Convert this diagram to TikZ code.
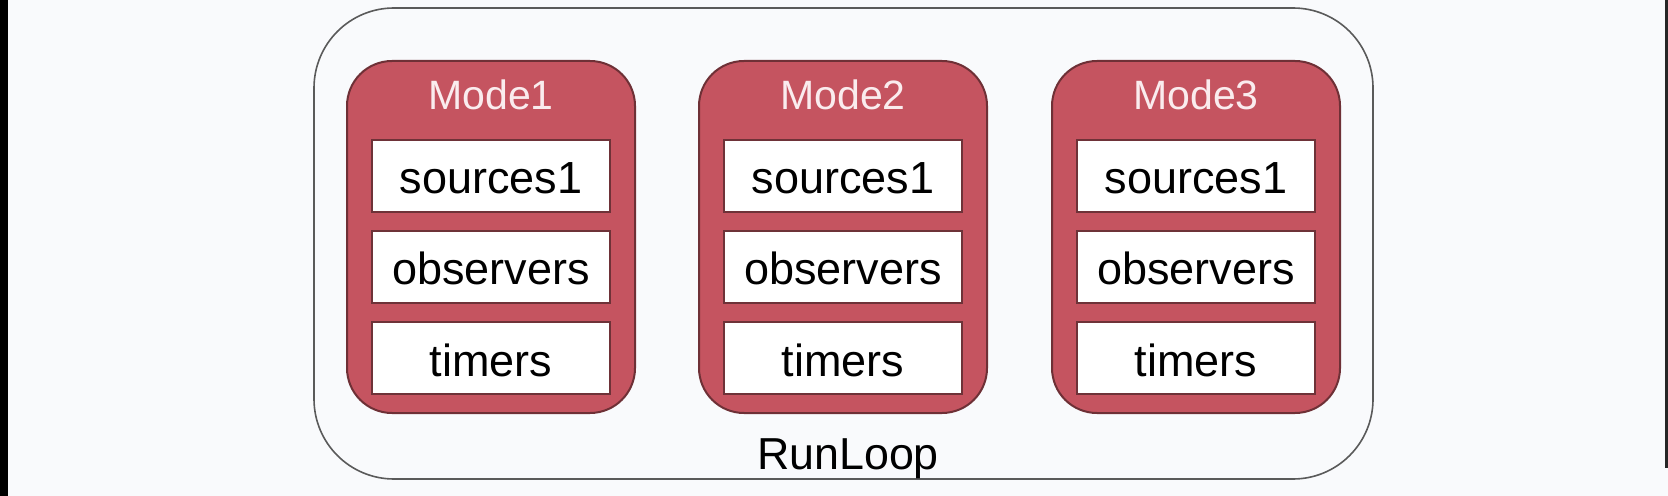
\documentclass[tikz,border=0pt]{standalone}
\usepackage{fontspec}
\setmainfont{Liberation Sans}
\definecolor{bg}{RGB}{249,250,252}
\definecolor{outergray}{RGB}{90,90,90}
\definecolor{modered}{RGB}{197,84,96}
\definecolor{modeborder}{RGB}{110,48,54}
\definecolor{itemborder}{RGB}{110,50,56}
\definecolor{titlecol}{RGB}{250,236,238}
\begin{document}
\begin{tikzpicture}[x=0.5pt,y=-0.5pt,
  outerbox/.style={draw=outergray, line width=0.8pt, fill=bg, rounded corners=40pt,
    minimum width=529.5pt, minimum height=235.5pt, inner sep=0pt},
  modebox/.style={draw=modeborder, line width=1pt, fill=modered, rounded corners=22.5pt,
    minimum width=144pt, minimum height=176pt, inner sep=0pt},
  itembox/.style={draw=itemborder, line width=0.9pt, fill=white,
    minimum width=119pt, minimum height=36pt, inner sep=0pt,
    font=\fontsize{22.5}{27}\selectfont, text height=18pt, text depth=0pt},
  modetitle/.style={anchor=base, text=titlecol, inner sep=0pt, font=\fontsize{20.5}{24}\selectfont},
  looplabel/.style={anchor=base, inner sep=0pt, font=\fontsize{22.4}{27}\selectfont}]
\useasboundingbox (0,0) rectangle (1668,496);
\fill[bg] (0,0) rectangle (1668,496);
\fill[black] (0,0) rectangle (8,496);
\fill[black!85] (1665,0) rectangle (1668,468);
\node[outerbox] (runloop) at (843.5,243.5) {};
\foreach \i/\x in {1/491,2/843,3/1196}{
  \node[modebox] (mode\i) at (\x,237) {};
  \node[modetitle] (title\i) at (\x,110) {Mode\i};
  \node[itembox] (src\i) at (\x,176) {sources1};
  \node[itembox] (obs\i) at (\x,267) {observers};
  \node[itembox] (tim\i) at (\x,358) {timers};
}
\node[looplabel] (looptext) at (848,469) {RunLoop};
\end{tikzpicture}
\end{document}
